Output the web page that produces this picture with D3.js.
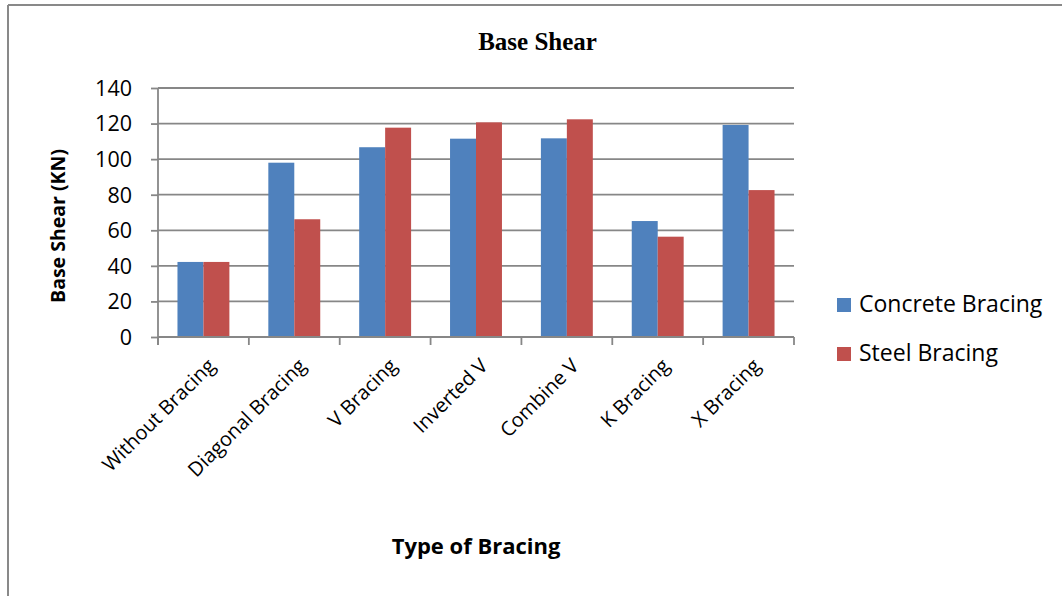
<!DOCTYPE html>
<html>
<head>
<meta charset="utf-8">
<script src="https://cdn.jsdelivr.net/npm/d3@7"></script>
<style>
  body { margin: 0; background: #fff; }
  svg { display: block; }
</style>
</head>
<body>
<svg id="chart" width="1062" height="596"></svg>
<script>
// Base shear per bracing type, in kN
const categories = ["Without Bracing", "Diagonal Bracing", "V Bracing", "Inverted V", "Combine V", "K Bracing", "X Bracing"];
const concreteBracing = [42.2, 98.0, 106.7, 111.5, 111.7, 65.2, 119.2];
const steelBracing = [42.2, 66.2, 117.7, 120.7, 122.4, 56.4, 82.6];
const seriesNames = ["Concrete Bracing", "Steel Bracing"];
const seriesColors = ["#4F81BD", "#C0504D"];
const yTicks = [0, 20, 40, 60, 80, 100, 120, 140];

const svg = d3.select("#chart");
const font = "'Open Sans', 'Liberation Sans', sans-serif";
const gridColor = "#878787";

const plot = { left: 158, right: 794, top: 88, bottom: 337 };

// outer chart frame
svg.append("line").attr("x1", 8).attr("y1", 5).attr("x2", 1062).attr("y2", 5)
  .attr("stroke", "#898989").attr("stroke-width", 2);
svg.append("line").attr("x1", 8).attr("y1", 5).attr("x2", 8).attr("y2", 596)
  .attr("stroke", "#898989").attr("stroke-width", 2);

const x = d3.scaleBand().domain(categories).range([plot.left, plot.right]).padding(0);
const bw = x.bandwidth();
const gap = bw * 0.75 / 3.5;
const xSub = d3.scaleBand().domain(seriesNames).range([gap, bw - gap]).padding(0);
const y = d3.scaleLinear().domain([0, 140]).range([plot.bottom, plot.top]);

// horizontal gridlines
svg.append("g").selectAll("line").data(yTicks.filter(d => d > 0)).join("line")
  .attr("x1", plot.left).attr("x2", plot.right)
  .attr("y1", d => y(d)).attr("y2", d => y(d))
  .attr("stroke", gridColor).attr("stroke-width", 1.8);

// bars
const rows = categories.map((c, i) => ({ cat: c, vals: [concreteBracing[i], steelBracing[i]] }));
const groups = svg.append("g").selectAll("g").data(rows).join("g")
  .attr("transform", d => `translate(${x(d.cat)},0)`);
groups.selectAll("rect").data(d => d.vals.map((v, j) => ({ v, s: seriesNames[j], c: seriesColors[j] }))).join("rect")
  .attr("x", d => xSub(d.s))
  .attr("width", xSub.bandwidth())
  .attr("y", d => y(d.v))
  .attr("height", d => y(0) - y(d.v))
  .attr("fill", d => d.c);

// y axis
const yAxis = d3.axisLeft(y).tickValues(yTicks).tickSize(7).tickPadding(19).tickFormat(d3.format("d"));
const gy = svg.append("g").attr("transform", `translate(${plot.left},0)`).call(yAxis);
gy.select(".domain").remove();
gy.selectAll(".tick line").attr("stroke", gridColor).attr("stroke-width", 1.8);
gy.selectAll(".tick text").attr("font-family", font).attr("font-size", 21.5).attr("fill", "#000").attr("dy", "0.34em");
svg.append("line").attr("x1", plot.left).attr("x2", plot.left).attr("y1", plot.top).attr("y2", plot.bottom + 8)
  .attr("stroke", gridColor).attr("stroke-width", 1.8);

// x axis line and boundary ticks
svg.append("line").attr("x1", plot.left).attr("x2", plot.right).attr("y1", plot.bottom).attr("y2", plot.bottom)
  .attr("stroke", gridColor).attr("stroke-width", 1.8);
const bounds = categories.map(c => x(c)).concat([x(categories[categories.length - 1]) + bw]);
svg.append("g").selectAll("line").data(bounds).join("line")
  .attr("x1", d => d).attr("x2", d => d).attr("y1", plot.bottom).attr("y2", plot.bottom + 8)
  .attr("stroke", gridColor).attr("stroke-width", 1.8);

// rotated category labels
const xAxis = d3.axisBottom(x).tickSize(0).tickPadding(0);
const gx = svg.append("g").attr("transform", `translate(0,${plot.bottom})`).call(xAxis);
gx.select(".domain").remove();
gx.selectAll(".tick text")
  .attr("font-family", font).attr("font-size", 20).attr("fill", "#000")
  .attr("text-anchor", "end").attr("dy", null).attr("y", 0)
  .attr("transform", "translate(13,30) rotate(-45)");

// titles
svg.append("text").attr("x", 537.5).attr("y", 49.5).attr("text-anchor", "middle")
  .attr("font-family", "'Liberation Serif', 'Times New Roman', serif").attr("font-weight", "bold")
  .attr("font-size", 25).text("Base Shear");
svg.append("text").attr("transform", "translate(65,226) rotate(-90)").attr("text-anchor", "middle")
  .attr("font-family", font).attr("font-weight", "bold").attr("font-size", 19.5).text("Base Shear (KN)");
svg.append("text").attr("x", 476).attr("y", 554).attr("text-anchor", "middle")
  .attr("font-family", font).attr("font-weight", "bold").attr("font-size", 22).text("Type of Bracing");

// legend
const legend = svg.append("g").selectAll("g").data(seriesNames).join("g")
  .attr("transform", (d, i) => `translate(837,${312 + i * 49})`);
legend.append("rect").attr("x", 0).attr("y", -14).attr("width", 14).attr("height", 14)
  .attr("fill", (d, i) => seriesColors[i]);
legend.append("text").attr("x", 22).attr("y", 0)
  .attr("font-family", font).attr("font-size", 23).attr("fill", "#000").text(d => d);
</script>
</body>
</html>
